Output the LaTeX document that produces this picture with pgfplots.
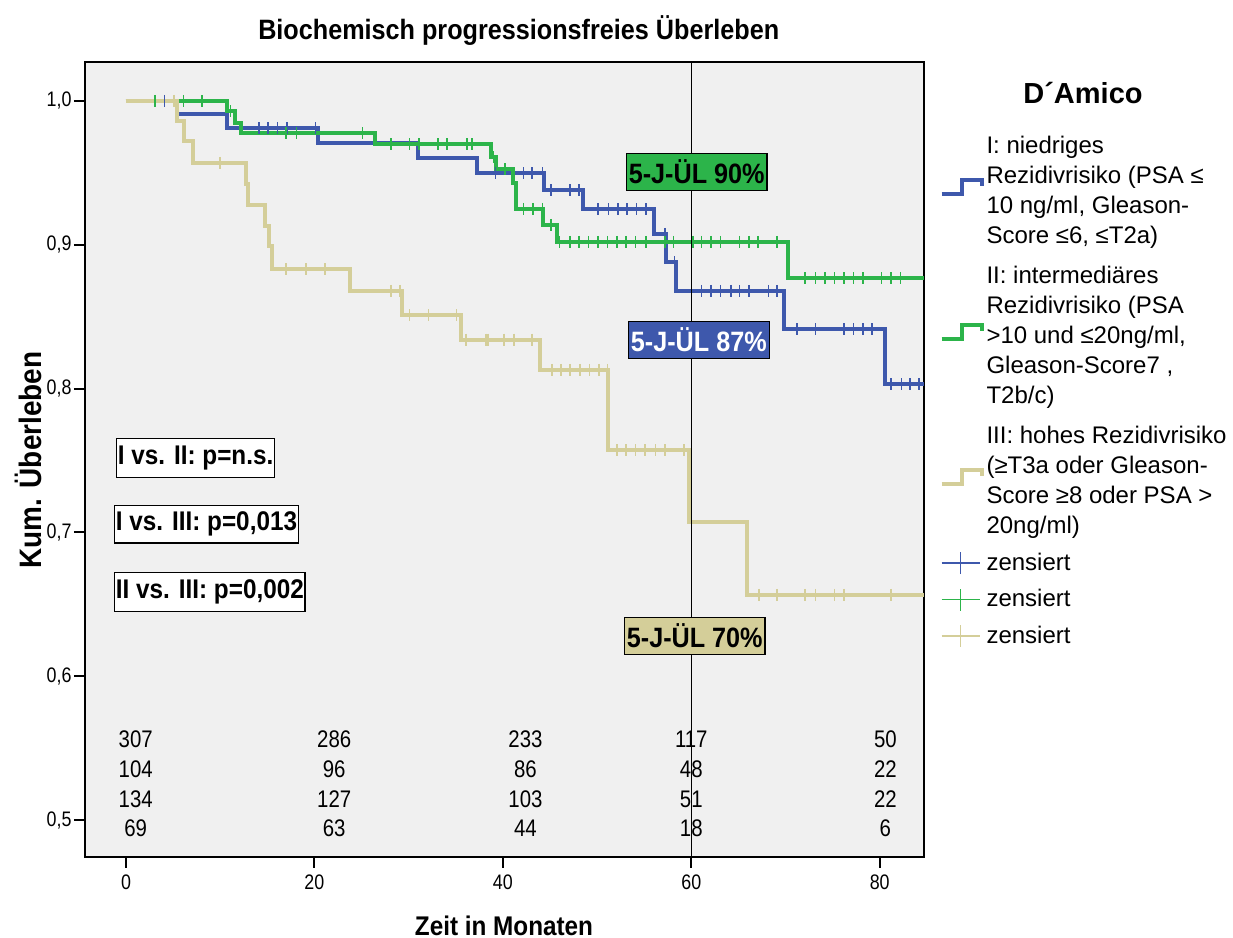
\documentclass[border=0pt]{standalone}
\usepackage{fontspec}
\setmainfont{Liberation Sans}
\newfontfamily\condfont[FakeStretch=0.85]{Liberation Sans}
\newfontfamily\condbfont[FakeStretch=0.9]{Liberation Sans}
\usepackage{pgfplots}
\pgfplotsset{compat=1.18}
\definecolor{bluec}{RGB}{62,88,172}
\definecolor{greenc}{RGB}{44,180,74}
\definecolor{tanc}{RGB}{212,206,153}
\definecolor{bgc}{RGB}{240,240,240}
\tikzset{nr/.style={font=\condfont\fontsize{12}{14}\selectfont},
  pbox/.style={fill=white, draw=black, line width=0.6pt, inner xsep=0.6pt, anchor=west,
  font=\condbfont\bfseries\fontsize{13.5}{16}\selectfont},
  jbox/.style={draw=black, line width=0.6pt, inner xsep=1.2pt, minimum height=17.5pt,
  font=\condbfont\bfseries\fontsize{14}{16}\selectfont}}
\newcommand{\stepicon}[1]{\draw[#1, line width=2pt] (0pt,-2pt) -- (10pt,-2pt) -- (10pt,5pt) -- (20pt,5pt) -- (20pt,2pt);}
\newcommand{\censicon}[1]{\draw[#1, line width=0.8pt] (0pt,0pt) -- (19pt,0pt); \draw[#1, line width=0.8pt] (9.5pt,-5.5pt) -- (9.5pt,5.5pt);}
\begin{document}
\begin{tikzpicture}
\useasboundingbox (-42.5pt,-40.5pt) rectangle (574pt,428.5pt);
\begin{axis}[
 at={(0,0)}, anchor=south west,
 scale only axis, width=419.5pt, height=397.5pt,
 xmin=-4.35, xmax=84.7, ymin=0.4743, ymax=1.0271,
 xtick={0,20,40,60,80}, ytick={0.5,0.6,0.7,0.8,0.9,1.0},
 tick align=outside, tick pos=left, major tick length=5.5pt,
 major tick style={black, line width=1pt},
 axis line style={line width=1pt},
 axis background/.style={fill=bgc},
 yticklabel style={xshift=2.3pt, /pgf/number format/.cd, use comma, fixed, fixed zerofill, precision=1, assume math mode=true},
 xticklabel style={/pgf/number format/assume math mode=true},
 tick label style={font=\condfont\fontsize{10.5}{12}\selectfont},
 clip=false,
 legend style={at={(rel axis cs:1.018,0.915)}, anchor=north west, draw=none, fill=none,
   inner sep=0pt, row sep=5pt, column sep=0pt, font=\fontsize{12}{15}\selectfont,
   nodes={inner sep=1.5pt}},
 legend cell align=left,
]
% step curves
\addplot[const plot, bluec, line width=2pt, legend image code/.code={\stepicon{bluec}}]
 coordinates {(0,1.0) (5.4,0.9907) (10.7,0.981) (20.4,0.9706) (31.0,0.960) (37.3,0.9497) (44.4,0.938) (48.5,0.9247) (56.0,0.9075) (57.3,0.888) (58.4,0.868) (69.85,0.8414) (80.6,0.803) (84.7,0.803)};
\addlegendentry{\begin{tabular}[b]{@{}l@{}}I: niedriges\\Rezidivrisiko (PSA ≤\\10 ng/ml, Gleason-\\Score ≤6, ≤T2a)\end{tabular}}
\addplot[const plot, greenc, line width=2pt, legend image code/.code={\stepicon{greenc}}]
 coordinates {(0,1.0) (10.7,0.993) (11.6,0.985) (12.2,0.9775) (26.4,0.970) (38.7,0.961) (39.3,0.9525) (41.1,0.943) (41.4,0.925) (44.3,0.9138) (45.8,0.902) (70.3,0.8767) (84.7,0.8767)};
\addlegendentry{\begin{tabular}[b]{@{}l@{}}II: intermediäres\\Rezidivrisiko (PSA\\>10 und ≤20ng/ml,\\Gleason-Score7 ,\\T2b/c)\end{tabular}}
\addplot[const plot, tanc, line width=2pt, legend image code/.code={\stepicon{tanc}}]
 coordinates {(0,1.0) (5.44,0.986) (6.15,0.972) (7.1,0.957) (12.7,0.942) (13.0,0.928) (14.8,0.913) (15.2,0.899) (15.5,0.883) (23.8,0.868) (29.3,0.851) (35.6,0.834) (43.9,0.813) (51.2,0.757) (59.8,0.707) (65.95,0.6565) (84.7,0.6565)};
\addlegendentry{\begin{tabular}[b]{@{}l@{}}III: hohes Rezidivrisiko\\(≥T3a oder Gleason-\\Score ≥8 oder PSA >\\20ng/ml)\end{tabular}}
% censored marks
\addplot[only marks, bluec, mark=|, mark size=3pt, mark options={line width=0.8pt}, legend image code/.code={\censicon{bluec}}]
 coordinates {(4.1,1.0) (14.1,0.981) (15.1,0.981) (16.1,0.981) (17.1,0.981) (20.1,0.981)
 (39.2,0.9497) (42.2,0.9497) (43.1,0.9497) (44.2,0.9497)
 (45.1,0.938) (47.1,0.938) (48.1,0.938)
 (50.1,0.9247) (51.2,0.9247) (52.2,0.9247) (53.2,0.9247) (54.2,0.9247) (55.2,0.9247)
 (57.2,0.9075) (58.2,0.888)
 (61.1,0.868) (62.1,0.868) (63.1,0.868) (64.2,0.868) (65.1,0.868) (66.1,0.868) (68.2,0.868) (69.1,0.868)
 (71.2,0.8414) (73.2,0.8414) (76.2,0.8414) (77.2,0.8414) (78.2,0.8414) (79.2,0.8414)
 (81.2,0.803) (82.3,0.803) (83.2,0.803) (84.2,0.803)};
\addlegendentry{zensiert}
\addplot[only marks, greenc, mark=|, mark size=3pt, mark options={line width=0.8pt}, legend image code/.code={\censicon{greenc}}]
 coordinates {(3.1,1.0) (6.1,1.0) (8.1,1.0) (11.1,0.993)
 (17.0,0.9775) (18.1,0.9775) (25.1,0.9775)
 (28.1,0.970) (30.1,0.970) (31.1,0.970) (33.1,0.970) (34.1,0.970) (36.2,0.970) (36.7,0.970)
 (39.0,0.961) (40.2,0.9525)
 (42.2,0.925) (43.2,0.925) (44.2,0.925) (45.1,0.9138)
 (46.0,0.902) (47.1,0.902) (48.1,0.902) (49.1,0.902) (50.1,0.902) (51.1,0.902) (52.1,0.902) (53.1,0.902) (54.1,0.902) (55.2,0.902) (57.2,0.902) (58.1,0.902) (60.2,0.902) (61.1,0.902) (62.1,0.902) (63.1,0.902) (65.1,0.902) (66.1,0.902) (67.1,0.902) (69.1,0.902)
 (72.1,0.8767) (73.2,0.8767) (74.2,0.8767) (75.2,0.8767) (76.2,0.8767) (77.2,0.8767) (78.2,0.8767) (80.2,0.8767) (81.2,0.8767) (82.2,0.8767)};
\addlegendentry{zensiert}
\addplot[only marks, tanc, mark=|, mark size=3pt, mark options={line width=0.8pt}, legend image code/.code={\censicon{tanc}}]
 coordinates {(5.1,1.0) (10.0,0.957)
 (17.0,0.883) (19.1,0.883) (21.1,0.883)
 (28.1,0.868) (29.1,0.868)
 (30.1,0.851) (32.1,0.851) (35.1,0.851)
 (36.1,0.834) (38.2,0.834) (38.4,0.834) (40.1,0.834) (41.2,0.834) (43.1,0.834)
 (45.2,0.813) (46.2,0.813) (47.1,0.813) (48.2,0.813) (49.2,0.813) (50.2,0.813) (51.1,0.813)
 (52.1,0.757) (53.1,0.757) (54.1,0.757) (55.1,0.757) (56.2,0.757) (57.2,0.757) (59.2,0.757)
 (67.2,0.6565) (69.1,0.6565) (72.1,0.6565) (73.2,0.6565) (75.2,0.6565) (76.2,0.6565) (81.2,0.6565)};
\addlegendentry{zensiert}
% reference line at 60 months
\addplot[black, line width=0.6pt, forget plot] coordinates {(60,0.4743) (60,1.0271)};
% 5-year boxes
\node[jbox, fill=greenc] at (axis cs:60.58,0.9506) {5-J-ÜL 90\%};
\node[jbox, fill=bluec, text=white] at (axis cs:60.8,0.8338) {5-J-ÜL 87\%};
\node[jbox, fill=tanc, minimum height=18.5pt] at (axis cs:60.37,0.628) {5-J-ÜL 70\%};
% p-value boxes
\node[pbox, minimum height=19.5pt] at (axis cs:-1.06,0.7517) {I vs. II: p=n.s.};
\node[pbox, minimum height=18.5pt] at (axis cs:-1.27,0.7058) {I vs. III: p=0,013};
\node[pbox, minimum height=19.5pt] at (axis cs:-1.27,0.6586) {II vs. III: p=0,002};
% numbers at risk
\node[nr] at (axis cs:1.03,0.5563) {307};
\node[nr] at (axis cs:1.03,0.5355) {104};
\node[nr] at (axis cs:1.03,0.5146) {134};
\node[nr] at (axis cs:1.03,0.4944) {69};
\node[nr] at (axis cs:22.1,0.5563) {286};
\node[nr] at (axis cs:22.1,0.5355) {96};
\node[nr] at (axis cs:22.1,0.5146) {127};
\node[nr] at (axis cs:22.1,0.4944) {63};
\node[nr] at (axis cs:42.4,0.5563) {233};
\node[nr] at (axis cs:42.4,0.5355) {86};
\node[nr] at (axis cs:42.4,0.5146) {103};
\node[nr] at (axis cs:42.4,0.4944) {44};
\node[nr] at (axis cs:60.0,0.5563) {117};
\node[nr] at (axis cs:60.0,0.5355) {48};
\node[nr] at (axis cs:60.0,0.5146) {51};
\node[nr] at (axis cs:60.0,0.4944) {18};
\node[nr] at (axis cs:80.6,0.5563) {50};
\node[nr] at (axis cs:80.6,0.5355) {22};
\node[nr] at (axis cs:80.6,0.5146) {22};
\node[nr] at (axis cs:80.6,0.4944) {6};
% titles
\node[font=\condbfont\bfseries\fontsize{14}{16}\selectfont] at (rel axis cs:0.517,1.040) {Biochemisch progressionsfreies Überleben};
\node[font=\condbfont\bfseries\fontsize{13.5}{16}\selectfont] at (rel axis cs:0.4994,-0.086) {Zeit in Monaten};
\node[rotate=90, font=\condbfont\bfseries\fontsize{15.5}{17}\selectfont] at (rel axis cs:-0.0679,0.4994) {Kum. Überleben};
\node[font=\bfseries\fontsize{14.5}{16}\selectfont] at (rel axis cs:1.1895,0.961) {D´Amico};
\end{axis}
\end{tikzpicture}
\end{document}
